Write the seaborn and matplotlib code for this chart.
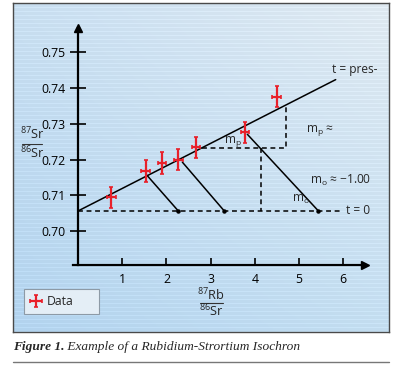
import numpy as np
import pandas as pd
import matplotlib.pyplot as plt
import seaborn as sns
from matplotlib.lines import Line2D

# Rb-Sr isochron sketch: values
rb_sr = [0.75, 1.53, 1.90, 2.27, 2.67, 3.78, 4.50]
sr_sr = [0.7094, 0.7168, 0.7191, 0.7200, 0.7234, 0.7276, 0.7376]
x_err = 0.1
y_err = 0.003

iso_x = [0.0, 5.83]
iso_y = [0.7056, 0.7424]

t0_x = [0.0, 5.98]
t0_y = [0.7056, 0.7056]

# decay paths (solid) from the isochron down to the t = 0 line
path_x0 = [1.56, 2.36, 3.83]
path_y0 = [0.7156, 0.7193, 0.7271]
path_x1 = [2.27, 3.31, 5.44]
path_y1 = [0.7056, 0.7056, 0.7056]

# slope construction (dashed)
mp_x = [2.80, 4.70, 4.70]
mp_y = [0.7232, 0.7232, 0.7352]
mo_x = [4.13, 4.13]
mo_y = [0.7232, 0.7056]

y_ticks = [0.70, 0.71, 0.72, 0.73, 0.74, 0.75]
y_labels = ['0.70', '0.71', '0.72', '0.73', '0.74', '0.75']
x_ticks = [1, 2, 3, 4, 5, 6]
x_labels = ['1', '2', '3', '4', '5', '6']

sns.set_style('white')
plt.rcParams['font.family'] = ['Open Sans', 'DejaVu Sans']
plt.rcParams['mathtext.fontset'] = 'custom'
plt.rcParams['mathtext.rm'] = 'Open Sans'
plt.rcParams['mathtext.it'] = 'Open Sans:italic'
plt.rcParams['mathtext.bf'] = 'Open Sans:bold'

W, H = 400, 368
fig = plt.figure(figsize=(4, 3.68), dpi=100)

# background panel with blue gradient and faint stripes
bg = fig.add_axes([13 / W, (H - 332) / H, 376 / W, 329 / H], zorder=0)
rows, cols = 329, 376
tl = np.array([200, 222, 240]) / 255
tr = np.array([223, 233, 241]) / 255
bl = np.array([178, 211, 238]) / 255
br = np.array([195, 221, 240]) / 255
u = np.linspace(0, 1, cols)[None, :, None]
v = np.linspace(0, 1, rows)[:, None, None]
img = (1 - v) * ((1 - u) * tl + u * tr) + v * ((1 - u) * bl + u * br)
img[::4] = np.clip(img[::4] + 0.035, 0, 1)
bg.imshow(img, aspect='auto', interpolation='nearest')
bg.set_xticks([])
bg.set_yticks([])
for s in bg.spines.values():
    s.set_color('#4a4a4a')
    s.set_linewidth(1.0)

# main plot axes, mapped onto the same pixel layout as the reference
ax = fig.add_axes([72.7 / W, (H - 264.9) / H, 292.6 / W, 237.4 / H], zorder=1)
ax.set_facecolor('none')
ax.set_xlim(-0.12, 6.5)
ax.set_ylim(0.6905, 0.757)

dash = (0, (3.2, 2.4))
sns.lineplot(x=iso_x, y=iso_y, ax=ax, color='black', lw=1.1)
sns.lineplot(x=t0_x, y=t0_y, ax=ax, color='black', lw=1.1, linestyle=dash)
for x0, y0, x1, y1 in zip(path_x0, path_y0, path_x1, path_y1):
    ax.plot([x0, x1], [y0, y1], color='black', lw=1.1)
ax.plot(path_x1, path_y1, 'o', color='black', ms=2.2, zorder=3)
ax.plot(mp_x, mp_y, color='black', lw=1.1, linestyle=dash)
ax.plot(mo_x, mo_y, color='black', lw=1.1, linestyle=dash)

ax.errorbar(rb_sr, sr_sr, xerr=x_err, yerr=y_err, fmt='none', ecolor='#e8202a',
            elinewidth=1.6, capsize=1.5, capthick=1.2, zorder=4, label='Data')

# axes drawn through the origin with arrows
sns.despine(ax=ax, top=True, right=True)
ax.spines['left'].set_position(('data', 0))
ax.spines['left'].set_linewidth(1.6)
ax.spines['bottom'].set_linewidth(1.6)
ax.spines['left'].set_color('black')
ax.spines['bottom'].set_color('black')
ax.plot(0, 1, marker='^', transform=ax.get_xaxis_transform(), clip_on=False,
        color='black', ms=6)
ax.plot(1, 0, marker='>', transform=ax.transAxes, clip_on=False,
        color='black', ms=6)

ax.set_yticks(y_ticks)
ax.set_yticklabels(y_labels)
ax.set_xticks(x_ticks)
ax.set_xticklabels(x_labels)
ax.tick_params(axis='y', direction='inout', length=11, width=1.2, pad=3.5,
               labelsize=8.8, colors='black', left=True)
ax.tick_params(axis='x', direction='in', length=5, width=1.2, pad=6,
               labelsize=8.8, colors='black', bottom=True)
ax.set_xlabel('')
ax.set_ylabel('')

# annotations
fs = 8.6
ax.text(5.74, 0.7452, 't = pres-', fontsize=fs, va='center', ha='left')
ax.text(5.15, 0.7282, 'm$_{\\rm p}$ \u2248', fontsize=fs, va='center', ha='left')
ax.text(5.24, 0.7142, 'm$_{\\rm o}$ \u2248 \u22121.00', fontsize=fs, va='center', ha='left')
ax.text(4.85, 0.7087, 'm$_{\\rm o}$', fontsize=fs, va='center', ha='left')
ax.text(3.30, 0.7250, 'm$_{\\rm p}$', fontsize=fs, va='center', ha='left')
ax.text(6.07, 0.7056, 't = 0', fontsize=fs, va='center', ha='left')

# fraction axis labels
fig.text(32 / W, 1 - 134 / H, '$^{87}$Sr', fontsize=9.2, ha='center', va='center')
fig.text(32 / W, 1 - 153 / H, '$^{86}$Sr', fontsize=9.2, ha='center', va='center')
fig.add_artist(Line2D([22 / W, 42 / W], [1 - 144 / H] * 2, color='#333333', lw=0.8))
fig.text(211 / W, 1 - 295 / H, '$^{87}$Rb', fontsize=9.2, ha='center', va='center')
fig.text(211 / W, 1 - 311 / H, '$^{86}$Sr', fontsize=9.2, ha='center', va='center')
fig.add_artist(Line2D([200 / W, 223 / W], [1 - 302.5 / H] * 2, color='#333333', lw=0.8))

leg = ax.legend(loc='upper left', bbox_to_anchor=(24 / W, 1 - 315 / H, 75 / W, 26 / H),
                bbox_transform=fig.transFigure, mode='expand', borderaxespad=0,
                fontsize=8.8, frameon=True, fancybox=False, framealpha=1,
                handlelength=0.9, borderpad=0.5, handletextpad=0.5)
leg.get_frame().set_facecolor('#e4eef6')
leg.get_frame().set_edgecolor('#8d9aa6')
leg.get_frame().set_linewidth(0.8)

# caption and rule
cap1 = fig.text(13 / W, 1 - 347 / H, 'Figure 1.', fontsize=9.6, style='italic',
                weight='bold', family='Liberation Serif', va='center', ha='left')
ax.annotate(' Example of a Rubidium-Strortium Isochron', xy=(1, 0), xycoords=cap1,
            va='bottom', ha='left', fontsize=9.6, style='italic',
            family='Liberation Serif', annotation_clip=False)
fig.add_artist(Line2D([13 / W, 389 / W], [1 - 362 / H] * 2, color='#777777', lw=1.0))

plt.savefig('out.png', dpi=100)
